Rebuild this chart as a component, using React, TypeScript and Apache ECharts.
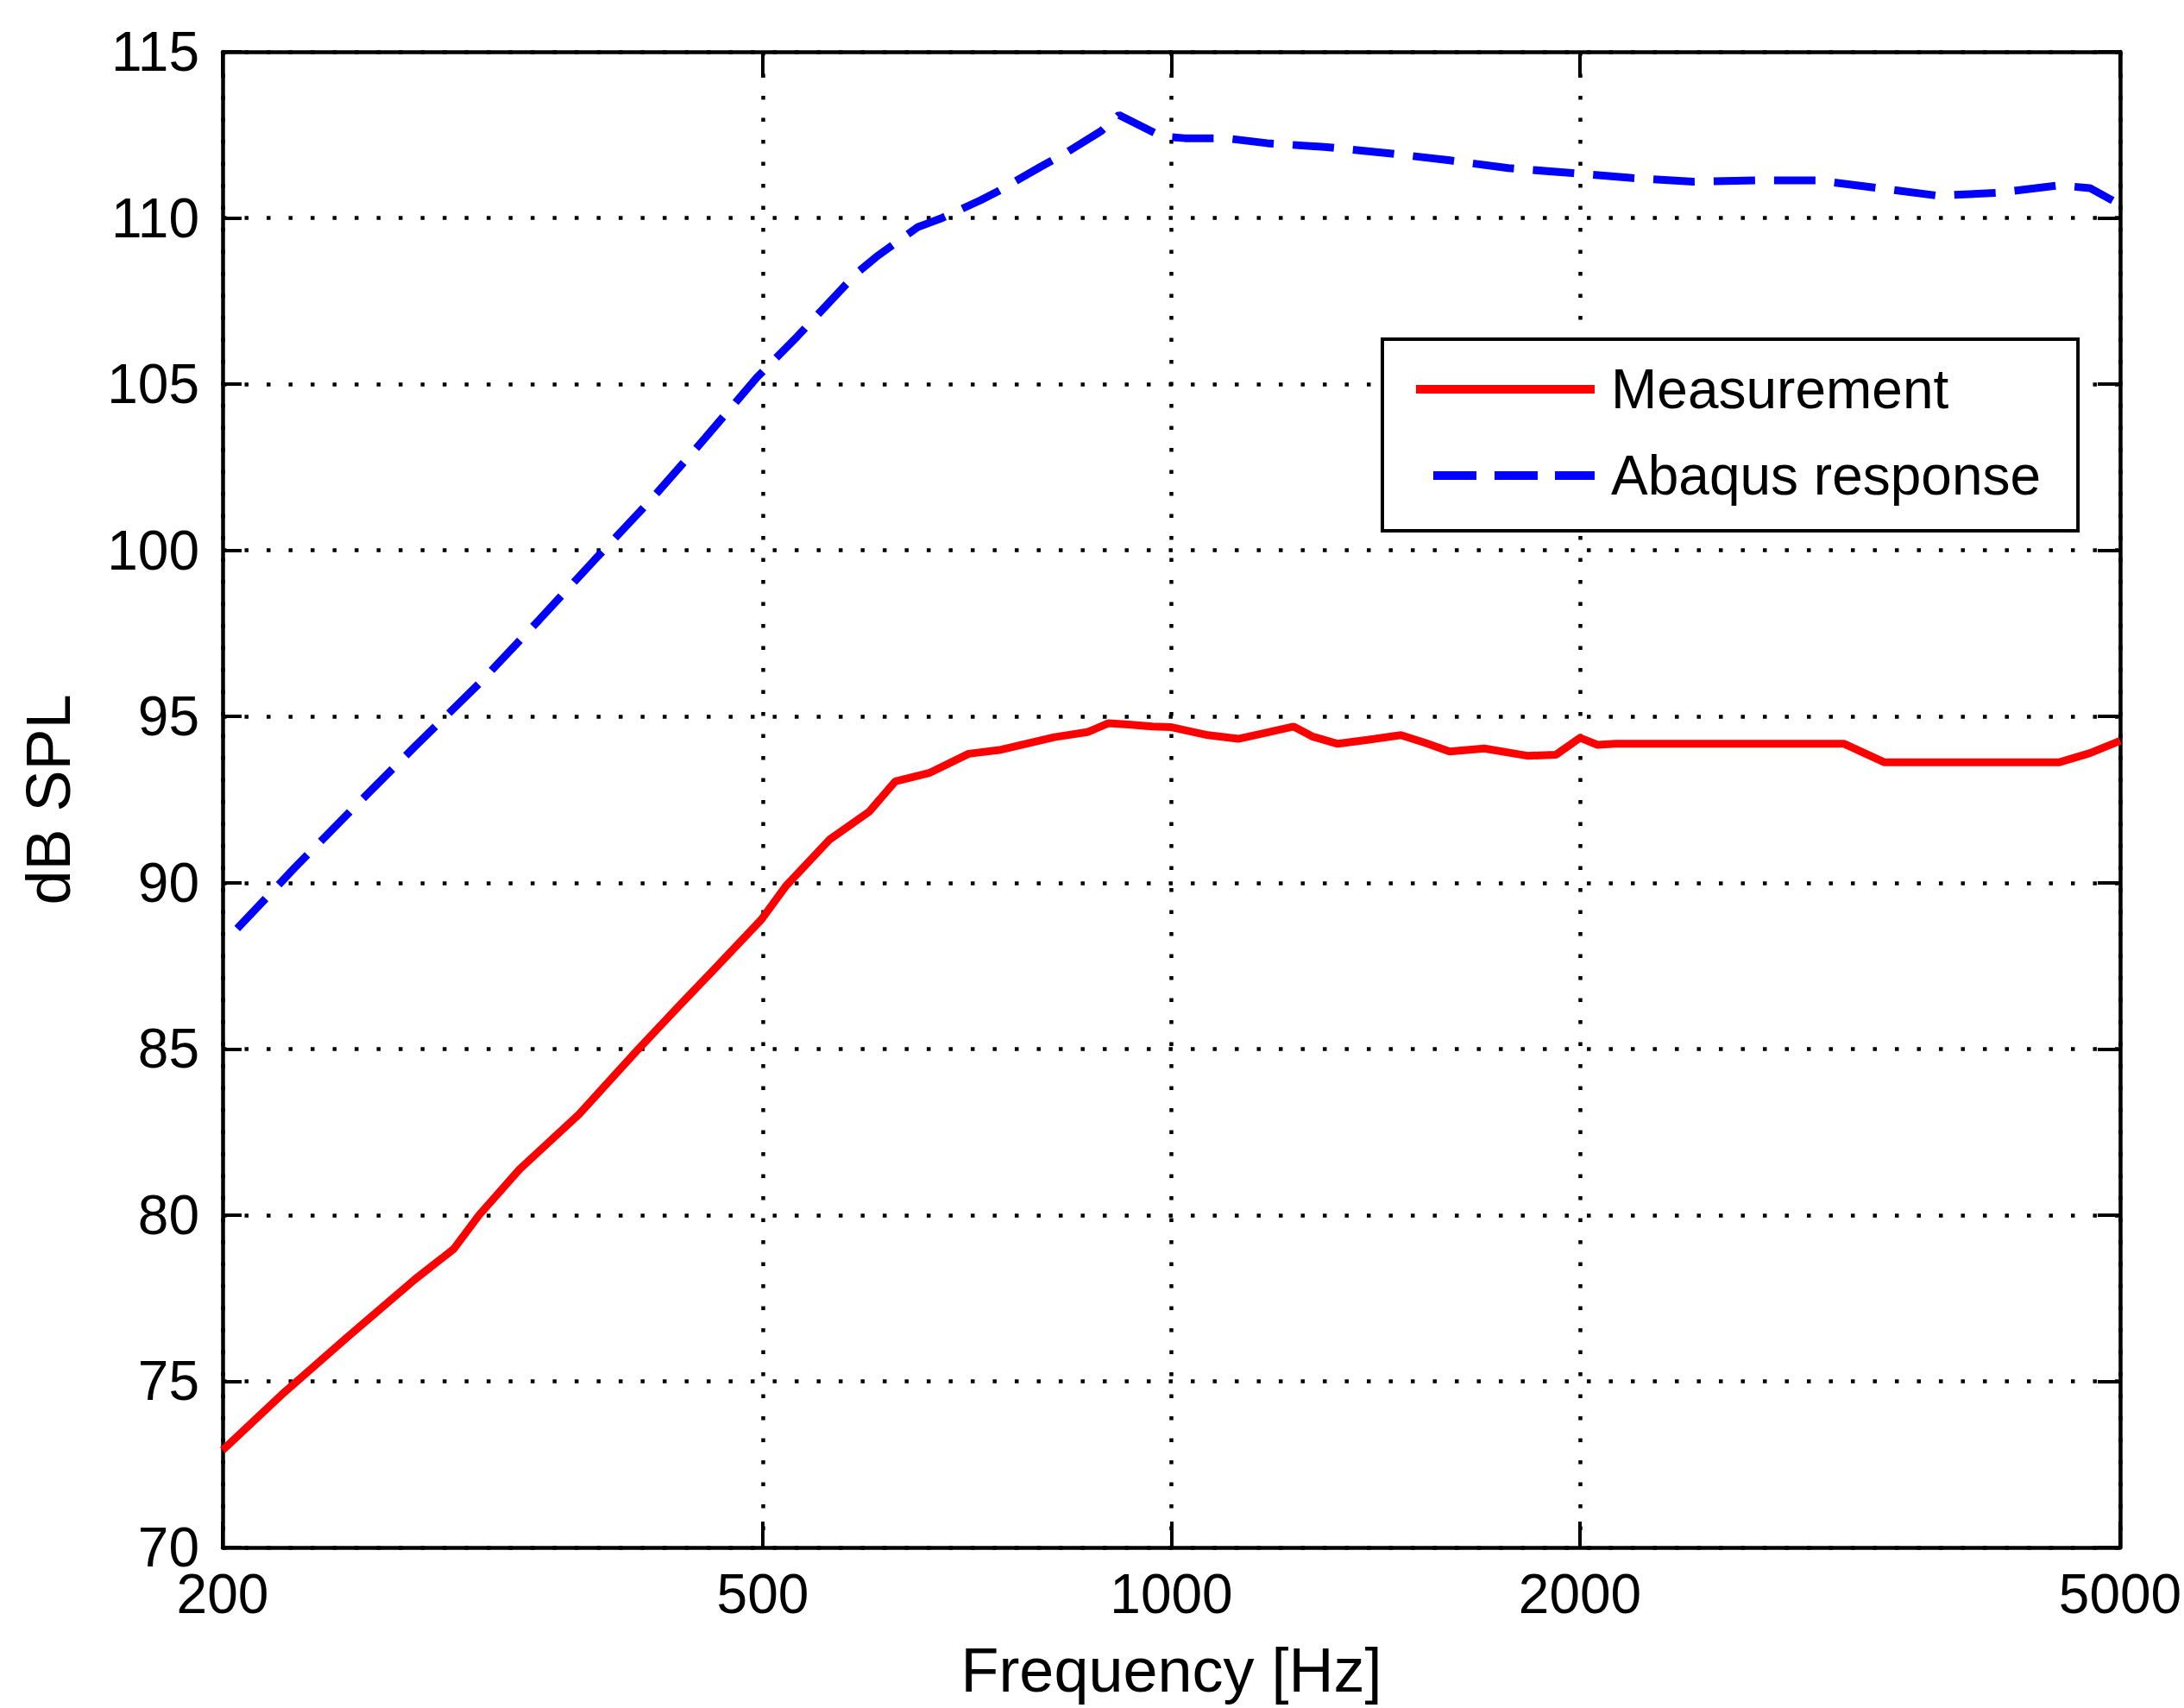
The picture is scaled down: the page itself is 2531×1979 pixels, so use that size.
import React, { useEffect, useRef } from "react";
import * as echarts from "echarts";

// X tick labels (Hz) on the logarithmic frequency axis
const xTickFreqs = [200, 500, 1000, 2000, 5000];

// Measurement (red, solid)
const measFreq = [
  200, 221, 247, 277, 296, 309, 331, 366, 405, 433, 463, 499, 520, 560, 599, 626,
  663, 709, 749, 820, 867, 899, 930, 968, 1000, 1064, 1120, 1179, 1230, 1270, 1326,
  1395, 1476, 1540, 1603, 1700, 1829, 1920, 2000, 2060, 2124, 3131, 3353, 4506, 4750, 5000,
];
const measDb = [
  72.93, 74.59, 76.32, 78.06, 78.98, 80.0, 81.38, 83.03, 85.0, 86.26, 87.5, 88.9, 89.9, 91.3, 92.14, 93.05,
  93.3, 93.88, 94.0, 94.38, 94.53, 94.8, 94.76, 94.7, 94.68, 94.44, 94.33, 94.53, 94.7, 94.4, 94.18,
  94.3, 94.44, 94.2, 93.95, 94.04, 93.82, 93.85, 94.36, 94.15, 94.18, 94.18, 93.62, 93.62, 93.9, 94.27,
];

// Abaqus response (blue, dashed)
const abaqusFreq = [
  205, 226, 250, 277, 309, 342, 376, 414, 453, 495, 530, 586, 607, 650, 676, 724, 745,
  801, 834, 888, 915, 984, 1023, 1096, 1176, 1302, 1443, 1599, 1771, 1974, 2187, 2424,
  2700, 2992, 3315, 3671, 4067, 4506, 4750, 5000,
];
const abaqusDb = [
  88.62, 90.45, 92.27, 94.09, 95.99, 97.9, 99.72, 101.54, 103.36, 105.2, 106.43, 108.33, 108.85, 109.72, 109.98, 110.54, 110.8,
  111.54, 111.93, 112.62, 113.1, 112.45, 112.4, 112.4, 112.25, 112.13, 111.95, 111.74, 111.5, 111.35, 111.2, 111.09,
  111.13, 111.13, 110.9, 110.67, 110.76, 110.98, 110.9, 110.4,
];

const seriesNames = ["Measurement", "Abaqus response"];

export default function App() {
  const ref = useRef<HTMLDivElement>(null);

  useEffect(() => {
    if (!ref.current) return;
    const chart = echarts.init(ref.current, null, { renderer: "svg" });
    const lg = (f: number) => Math.log10(f);
    const tickVals = xTickFreqs.map(lg);
    const font = "'Liberation Sans', Arial, Helvetica, sans-serif";
    const axisLine = { show: true, onZero: false, lineStyle: { color: "#000", width: 4.5 } };
    const gridLine = { show: true, lineStyle: { color: "#000", width: 4.5, type: [4.5, 21] } };
    const tickStyle = { color: "#000", width: 4 };

    const measData = measFreq.map((f, i) => [lg(f), measDb[i]]);
    const abaqusData = abaqusFreq.map((f, i) => [lg(f), abaqusDb[i]]);

    chart.setOption({
      animation: false,
      backgroundColor: "#fff",
      grid: { left: 258, right: 74, top: 60, bottom: 186, containLabel: false, outerBoundsMode: "none" },
      legend: {
        show: true,
        orient: "vertical",
        left: 1602,
        top: 393,
        padding: [26, 43, 32, 39],
        itemWidth: 207,
        itemHeight: 10,
        itemGap: 36,
        borderColor: "#000",
        borderWidth: 4,
        backgroundColor: "#fff",
        selectedMode: false,
        textStyle: { fontSize: 64, fontFamily: font, color: "#000", lineHeight: 60, padding: [0, 0, 0, 14] },
        data: [
          { name: seriesNames[0], icon: "path://M0,0H207V10H0Z" },
          {
            name: seriesNames[1],
            icon: "path://M0,0L0,10Z M20,0H70V10H20Z M91,0H141V10H91Z M161,0H207V10H161Z",
          },
        ],
      },
      xAxis: [
        {
          type: "value",
          position: "bottom",
          min: lg(200),
          max: lg(5000),
          axisLine,
          axisTick: { show: true, inside: true, length: 30, customValues: tickVals, lineStyle: tickStyle },
          axisLabel: {
            show: true,
            customValues: tickVals,
            formatter: (v: number) => String(Math.round(Math.pow(10, v))),
            margin: 22,
            color: "#000",
            fontSize: 64,
            fontFamily: font,
            showMinLabel: true,
            showMaxLabel: true,
          },
          splitLine: gridLine,
          name: "Frequency [Hz]",
          nameLocation: "middle",
          nameGap: 106,
          nameTextStyle: { fontSize: 72, fontFamily: font, color: "#000" },
        },
        {
          type: "value",
          position: "top",
          min: lg(200),
          max: lg(5000),
          axisLine,
          axisTick: { show: true, inside: true, length: 30, customValues: tickVals, lineStyle: tickStyle },
          axisLabel: { show: false },
          splitLine: { show: false },
        },
      ],
      yAxis: [
        {
          type: "value",
          position: "left",
          min: 70,
          max: 115,
          interval: 5,
          axisLine,
          axisTick: { show: true, inside: true, length: 22, lineStyle: tickStyle },
          axisLabel: {
            margin: 27,
            color: "#000",
            fontSize: 64,
            fontFamily: font,
            showMinLabel: true,
            showMaxLabel: true,
          },
          splitLine: gridLine,
          name: "dB SPL",
          nameLocation: "middle",
          nameRotate: 90,
          nameGap: 166,
          nameTextStyle: { fontSize: 72, fontFamily: font, color: "#000" },
        },
        {
          type: "value",
          position: "right",
          min: 70,
          max: 115,
          interval: 5,
          axisLine,
          axisTick: { show: true, inside: true, length: 26, lineStyle: tickStyle },
          axisLabel: { show: false },
          splitLine: { show: false },
        },
      ],
      series: [
        {
          name: seriesNames[0],
          type: "line",
          xAxisIndex: 0,
          yAxisIndex: 0,
          data: measData,
          symbol: "none",
          showSymbol: false,
          lineStyle: { color: "#ff0000", width: 9, cap: "butt" },
          itemStyle: { color: "#ff0000" },
        },
        {
          name: seriesNames[1],
          type: "line",
          xAxisIndex: 0,
          yAxisIndex: 0,
          data: abaqusData,
          symbol: "none",
          showSymbol: false,
          lineStyle: { color: "#0000ff", width: 9, type: [48, 22], cap: "butt" },
          itemStyle: { color: "#0000ff" },
        },
      ],
    });

    return () => {
      chart.dispose();
    };
  }, []);

  return (
    <div
      ref={ref}
      style={{ position: "fixed", left: 0, top: 0, width: 2531, height: 1979, background: "#fff" }}
    />
  );
}
